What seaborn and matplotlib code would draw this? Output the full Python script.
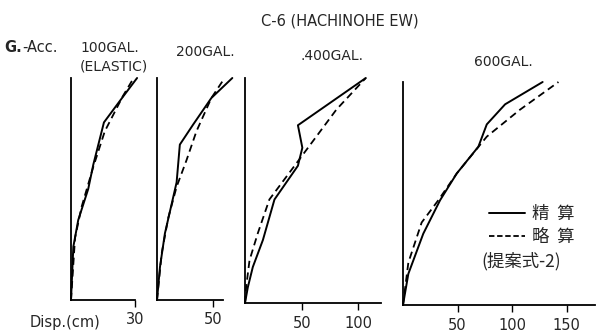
import numpy as np
import pandas as pd
import seaborn as sns
import matplotlib.pyplot as plt
from matplotlib.lines import Line2D

# ---------------------------------------------------------
# DATA  (height ratio 0..1 vs displacement in cm)
# ---------------------------------------------------------
p1_exact_h = [0, 0.24, 0.36, 0.50, 0.61, 0.80, 0.92, 1.0]
p1_exact_d = [0, 1.1, 3.4, 8.1, 10.5, 15.5, 24.8, 31.1]
p1_approx_h = [0, 0.28, 0.42, 0.60, 0.76, 0.92, 1.0]
p1_approx_d = [0, 1.9, 5.0, 10.5, 15.9, 24.5, 29.5]

p2_exact_h = [0, 0.15, 0.30, 0.53, 0.70, 0.79, 0.91, 1.0]
p2_exact_d = [0, 2.7, 7.1, 17.6, 20.5, 32.4, 48.8, 67.6]
p2_approx_h = [0, 0.21, 0.37, 0.51, 0.63, 0.76, 0.91, 1.0]
p2_approx_d = [0, 4.2, 10.1, 17.6, 26.5, 35.4, 48.8, 60.7]

p3_exact_h = [0, 0.07, 0.16, 0.28, 0.46, 0.61, 0.69, 0.79, 1.0]
p3_exact_d = [0, 2.5, 6.9, 15.8, 26.0, 46.7, 50.6, 46.7, 106.6]
p3_approx_h = [0, 0.07, 0.19, 0.31, 0.46, 0.64, 0.86, 1.0]
p3_approx_d = [0, 1.0, 4.0, 11.3, 21.5, 48.2, 80.7, 106.6]

p4_exact_h = [0, 0.14, 0.32, 0.47, 0.59, 0.71, 0.81, 0.90, 1.0]
p4_exact_d = [0, 4.9, 18.6, 34.0, 49.3, 69.1, 76.8, 93.6, 128.0]
p4_approx_h = [0, 0.19, 0.37, 0.47, 0.59, 0.755, 0.875, 1.0]
p4_approx_d = [0, 4.9, 17.1, 32.4, 49.3, 76.8, 107.0, 142.5]

panel_titles = ["100GAL.", "200GAL.", ".400GAL.", "600GAL."]
panel_ticks = [[30], [50], [50, 100], [50, 100, 150]]
panel_xlim = [32, 70, 120, 176]
panel_axis_end = [30, 59, 120, 176]

# ---------------------------------------------------------
# FIGURE
# ---------------------------------------------------------
sns.set_theme(style="white")
plt.rcParams['font.family'] = ['DejaVu Sans', 'Noto Sans CJK JP']

W, H = 597, 333
fig = plt.figure(figsize=(W / 100, H / 100), dpi=100)


def px_axes(x0, y0, x1, y1):
    return fig.add_axes([x0 / W, 1 - y1 / H, (x1 - x0) / W, (y1 - y0) / H])


# pixel boxes of each panel (left, top, right, bottom)
boxes = [(71, 78, 139, 300), (157, 78, 235, 300),
         (245, 78, 381, 303), (403, 82, 595, 305)]

series = [
    (p1_exact_d, p1_exact_h, p1_approx_d, p1_approx_h),
    (p2_exact_d, p2_exact_h, p2_approx_d, p2_approx_h),
    (p3_exact_d, p3_exact_h, p3_approx_d, p3_approx_h),
    (p4_exact_d, p4_exact_h, p4_approx_d, p4_approx_h),
]

axes = []
for i, box in enumerate(boxes):
    ax = px_axes(*box)
    ed, eh, ad, ah = series[i]
    sns.lineplot(x=ed, y=eh, sort=False, estimator=None, color="black",
                 linewidth=1.4, ax=ax)
    sns.lineplot(x=ad, y=ah, sort=False, estimator=None, color="black",
                 linewidth=1.3, linestyle=(0, (4, 2.5)), ax=ax)
    ax.set_xlim(0, panel_xlim[i])
    ax.set_ylim(0, 1.0)
    for s in ["top", "right"]:
        ax.spines[s].set_visible(False)
    for s in ["left", "bottom"]:
        ax.spines[s].set_color("black")
        ax.spines[s].set_linewidth(1.3)
    ax.spines["bottom"].set_bounds(0, panel_axis_end[i])
    ax.set_yticks([])
    ax.set_xticks(panel_ticks[i])
    ax.set_xticklabels([str(t) for t in panel_ticks[i]], fontsize=10.5)
    ax.tick_params(axis="x", direction="out", length=5, width=1,
                   color="black", bottom=True, pad=4)
    ax.set_xlabel("")
    ax.set_ylabel("")
    ax.patch.set_visible(False)
    for ln in ax.lines:
        ln.set_clip_on(False)
    axes.append(ax)


def ftext(x, y, s, **kw):
    fig.text(x / W, 1 - y / H, s, va="center", **kw)


ftext(340, 21, "C-6 (HACHINOHE EW)", ha="center", fontsize=10.5)
ftext(4, 48, "G.", fontsize=10.5, fontweight="bold")
ftext(22, 48, "-Acc.", fontsize=10.5)
ftext(80, 48, panel_titles[0], fontsize=10)
ftext(80, 67, "(ELASTIC)", fontsize=10)
ftext(176, 52, panel_titles[1], fontsize=10)
ftext(301, 56, panel_titles[2], fontsize=10)
ftext(474, 62, panel_titles[3], fontsize=10)
ftext(30, 322, "Disp.(cm)", fontsize=10.5)

# legend in the last panel
handles = [Line2D([], [], color="black", linewidth=1.4),
           Line2D([], [], color="black", linewidth=1.3, linestyle=(0, (3, 1.5)))]
leg = axes[3].legend(handles, ["精  算", "略  算"], frameon=False,
                     loc="upper left", bbox_to_anchor=(489 / W, 1 - 205 / H),
                     bbox_transform=fig.transFigure, handlelength=2.1,
                     handletextpad=0.35, labelspacing=0.3, fontsize=12.5,
                     borderpad=0, borderaxespad=0)
for t in leg.get_texts():
    t.set_fontfamily(['Noto Sans CJK JP', 'DejaVu Sans'])
fig.text(481 / W, 1 - 261 / H, "(提案式-2)", va="center", fontsize=12.5,
         family=['Noto Sans CJK JP', 'DejaVu Sans'])

fig.savefig("out.png", dpi=100)
